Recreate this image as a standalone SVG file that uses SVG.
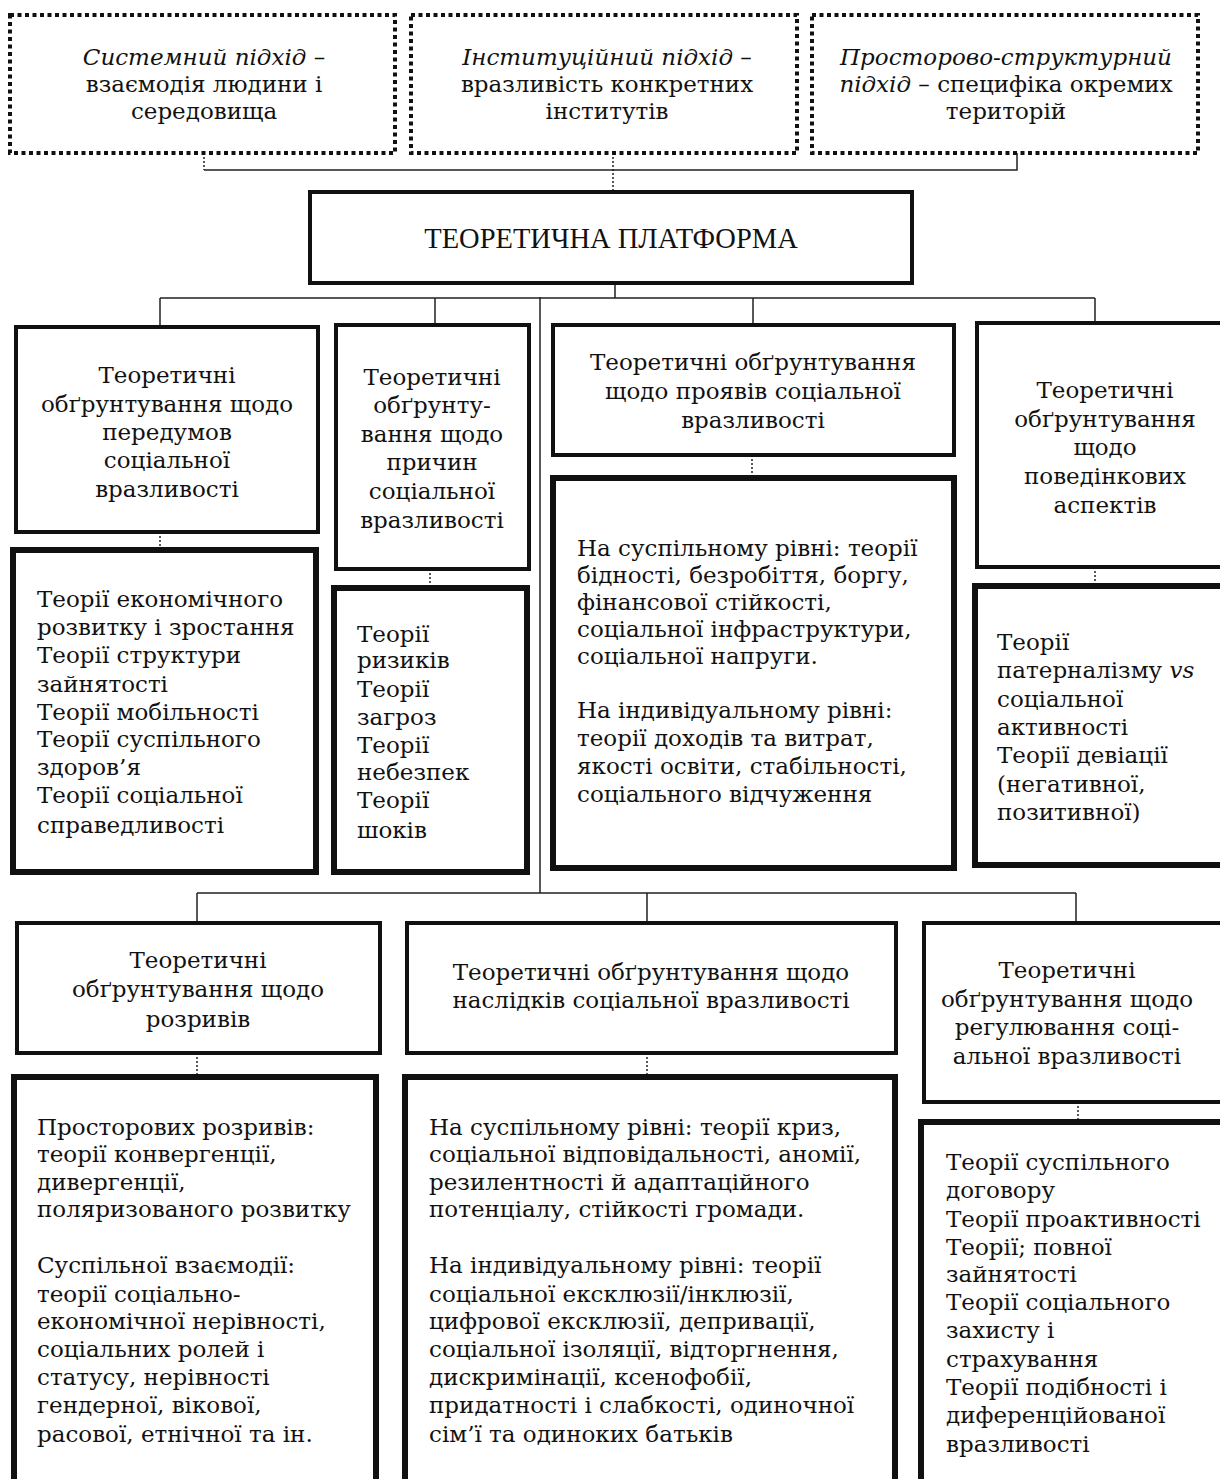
<svg xmlns="http://www.w3.org/2000/svg" width="1220" height="1479" viewBox="0 0 1220 1479">
<style>
text{font-family:"DejaVu Serif","Liberation Serif",serif;font-size:23px;fill:#111}
.c{text-anchor:middle}
.i{font-style:italic}
.ttl{font-family:"Liberation Serif",serif;font-size:28.5px}
.dot{fill:#fff;stroke:#111;stroke-width:4;stroke-dasharray:4 3.5}
.hd{fill:#fff;stroke:#111;stroke-width:4}
.bd{fill:#fff;stroke:#111;stroke-width:6}
.ln{fill:none;stroke:#222;stroke-width:1.5}
.dl{fill:none;stroke:#222;stroke-width:1.5;stroke-dasharray:2 2}
</style>
<rect width="1220" height="1479" fill="#fff"/>
<g id="connectors">
<path class="dl" d="M204 153V170"/>
<path class="ln" d="M204 170H1017V153"/>
<path class="dl" d="M613 153V192"/>
<path class="ln" d="M615 283V298M160 298H1095M160 298V327M435 298V325M753 298V325M1095 298V323M540 297V893"/>
<path class="ln" d="M197 893H1076M197 893V923M647 893V923M1076 893V923"/>
<path class="dl" d="M160 532V550M430 569V588M752 455V478M1095 567V586M197 1053V1077M647 1053V1077M1078 1102V1122"/>
</g>
<g id="top1"><rect class="dot" x="10" y="15" width="385" height="138"/>
<text class="c" x="204" y="65"><tspan class="i">Системний підхід</tspan> –</text>
<text class="c" x="204" y="92">взаємодія людини і</text>
<text class="c" x="204" y="119">середовища</text></g>
<g id="top2"><rect class="dot" x="411" y="15" width="386" height="138"/>
<text class="c" x="607" y="65"><tspan class="i">Інституційний підхід</tspan> –</text>
<text class="c" x="607" y="92">вразливість конкретних</text>
<text class="c" x="607" y="119">інститутів</text></g>
<g id="top3"><rect class="dot" x="812" y="15" width="386" height="138"/>
<text class="c i" x="1006" y="65">Просторово-структурний</text>
<text class="c" x="1006" y="92"><tspan class="i">підхід</tspan> – специфіка окремих</text>
<text class="c" x="1006" y="119">територій</text></g>
<g id="main"><rect class="hd" x="310" y="192" width="602" height="91"/>
<text class="c ttl" x="611" y="248">ТЕОРЕТИЧНА ПЛАТФОРМА</text></g>
<g id="nodeA"><rect class="hd" x="16" y="327" width="302" height="205"/>
<text class="c" x="167" y="383">Теоретичні</text>
<text class="c" x="167" y="412">обґрунтування щодо</text>
<text class="c" x="167" y="440">передумов</text>
<text class="c" x="167" y="468">соціальної</text>
<text class="c" x="167" y="497">вразливості</text></g>
<g id="nodeA2"><rect class="bd" x="13" y="550" width="303" height="322"/>
<text x="37" y="607">Теорії економічного</text>
<text x="37" y="635">розвитку і зростання</text>
<text x="37" y="663">Теорії структури</text>
<text x="37" y="692">зайнятості</text>
<text x="37" y="720">Теорії мобільності</text>
<text x="37" y="747">Теорії суспільного</text>
<text x="37" y="775">здоров’я</text>
<text x="37" y="803">Теорії соціальної</text>
<text x="37" y="833">справедливості</text></g>
<g id="nodeB"><rect class="hd" x="336" y="325" width="193" height="244"/>
<text class="c" x="432" y="385">Теоретичні</text>
<text class="c" x="432" y="413">обґрунту-</text>
<text class="c" x="432" y="442">вання щодо</text>
<text class="c" x="432" y="470">причин</text>
<text class="c" x="432" y="499">соціальної</text>
<text class="c" x="432" y="528">вразливості</text></g>
<g id="nodeB2"><rect class="bd" x="334" y="588" width="193" height="284"/>
<text x="357" y="642">Теорії</text>
<text x="357" y="668">ризиків</text>
<text x="357" y="697">Теорії</text>
<text x="357" y="725">загроз</text>
<text x="357" y="753">Теорії</text>
<text x="357" y="780">небезпек</text>
<text x="357" y="808">Теорії</text>
<text x="357" y="838">шоків</text></g>
<g id="nodeC"><rect class="hd" x="553" y="325" width="401" height="130"/>
<text class="c" x="753" y="370">Теоретичні обґрунтування</text>
<text class="c" x="753" y="399">щодо проявів соціальної</text>
<text class="c" x="753" y="428">вразливості</text></g>
<g id="nodeC2"><rect class="bd" x="553" y="478" width="401" height="390"/>
<text x="577" y="556">На суспільному рівні: теорії</text>
<text x="577" y="583">бідності, безробіття, боргу,</text>
<text x="577" y="610">фінансової стійкості,</text>
<text x="577" y="637">соціальної інфраструктури,</text>
<text x="577" y="664">соціальної напруги.</text>
<text x="577" y="718">На індивідуальному рівні:</text>
<text x="577" y="746">теорії доходів та витрат,</text>
<text x="577" y="774">якості освіти, стабільності,</text>
<text x="577" y="802">соціального відчуження</text></g>
<g id="nodeD"><rect class="hd" x="977" y="323" width="256" height="244"/>
<text class="c" x="1105" y="398">Теоретичні</text>
<text class="c" x="1105" y="427">обґрунтування</text>
<text class="c" x="1105" y="455">щодо</text>
<text class="c" x="1105" y="484">поведінкових</text>
<text class="c" x="1105" y="513">аспектів</text></g>
<g id="nodeD2"><rect class="bd" x="975" y="586" width="258" height="279"/>
<text x="997" y="650">Теорії</text>
<text x="997" y="678">патерналізму <tspan class="i">vs</tspan></text>
<text x="997" y="707">соціальної</text>
<text x="997" y="735">активності</text>
<text x="997" y="763">Теорії девіації</text>
<text x="997" y="792">(негативної,</text>
<text x="997" y="820">позитивної)</text></g>
<g id="nodeE"><rect class="hd" x="17" y="923" width="363" height="130"/>
<text class="c" x="198" y="968">Теоретичні</text>
<text class="c" x="198" y="997">обґрунтування щодо</text>
<text class="c" x="198" y="1027">розривів</text></g>
<g id="nodeE2"><rect class="bd" x="14" y="1077" width="362" height="430"/>
<text x="37" y="1135">Просторових розривів:</text>
<text x="37" y="1162">теорії конвергенції,</text>
<text x="37" y="1190">дивергенції,</text>
<text x="37" y="1217">поляризованого розвитку</text>
<text x="37" y="1273">Суспільної взаємодії:</text>
<text x="37" y="1302">теорії соціально-</text>
<text x="37" y="1329">економічної нерівності,</text>
<text x="37" y="1357">соціальних ролей і</text>
<text x="37" y="1385">статусу, нерівності</text>
<text x="37" y="1413">гендерної, вікової,</text>
<text x="37" y="1442">расової, етнічної та ін.</text></g>
<g id="nodeF"><rect class="hd" x="407" y="923" width="489" height="130"/>
<text class="c" x="651" y="980">Теоретичні обґрунтування щодо</text>
<text class="c" x="651" y="1008">наслідків соціальної вразливості</text></g>
<g id="nodeF2"><rect class="bd" x="405" y="1077" width="490" height="430"/>
<text x="429" y="1135">На суспільному рівні: теорії криз,</text>
<text x="429" y="1162">соціальної відповідальності, аномії,</text>
<text x="429" y="1190">резилентності й адаптаційного</text>
<text x="429" y="1217">потенціалу, стійкості громади.</text>
<text x="429" y="1273">На індивідуальному рівні: теорії</text>
<text x="429" y="1302">соціальної ексклюзії/інклюзії,</text>
<text x="429" y="1329">цифрової ексклюзії, депривації,</text>
<text x="429" y="1357">соціальної ізоляції, відторгнення,</text>
<text x="429" y="1385">дискримінації, ксенофобії,</text>
<text x="429" y="1413">придатності і слабкості, одиночної</text>
<text x="429" y="1442">сім’ї та одиноких батьків</text></g>
<g id="nodeG"><rect class="hd" x="924" y="923" width="309" height="179"/>
<text class="c" x="1067" y="978">Теоретичні</text>
<text class="c" x="1067" y="1007">обґрунтування щодо</text>
<text class="c" x="1067" y="1035">регулювання соці-</text>
<text class="c" x="1067" y="1064">альної вразливості</text></g>
<g id="nodeG2"><rect class="bd" x="921" y="1122" width="312" height="385"/>
<text x="946" y="1170">Теорії суспільного</text>
<text x="946" y="1198">договору</text>
<text x="946" y="1227">Теорії проактивності</text>
<text x="946" y="1255">Теорії; повної</text>
<text x="946" y="1282">зайнятості</text>
<text x="946" y="1310">Теорії соціального</text>
<text x="946" y="1338">захисту і</text>
<text x="946" y="1367">страхування</text>
<text x="946" y="1395">Теорії подібності і</text>
<text x="946" y="1423">диференційованої</text>
<text x="946" y="1452">вразливості</text></g>
</svg>
